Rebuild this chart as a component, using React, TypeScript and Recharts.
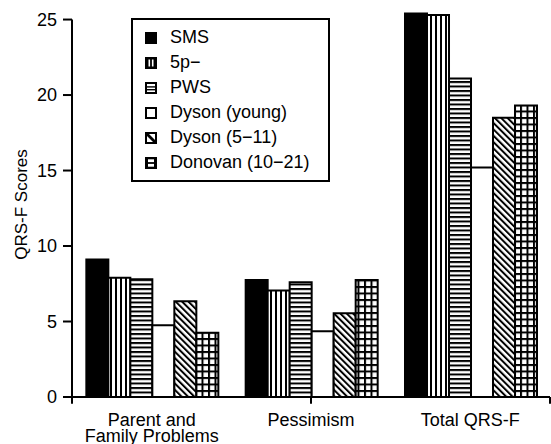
import React from 'react';
import { BarChart, Bar, XAxis, YAxis, ReferenceLine, Legend } from 'recharts';

const categories = ['Parent and Family Problems', 'Pessimism', 'Total QRS-F'];
const sms = [9.1, 7.75, 25.4];
const p5 = [7.9, 7.05, 25.3];
const pws = [7.8, 7.6, 21.1];
const dysonYoung = [4.75, 4.35, 15.2];
const dyson511 = [6.35, 5.55, 18.5];
const donovan = [4.25, 7.75, 19.3];
const yTicks = [0, 5, 10, 15, 20, 25];
const groupEdges = [0, 1, 2, 3];
const seriesNames = ['SMS', '5p\u2212', 'PWS', 'Dyson (young)', 'Dyson (5\u221211)', 'Donovan (10\u221221)'];
const seriesKeys = ['sms', 'p5', 'pws', 'dysonYoung', 'dyson511', 'donovan'];
const seriesFills = ['#000', 'url(#vstripe)', 'url(#hstripe)', '#fff', 'url(#diag)', 'url(#grid)'];

const FONT = '"Liberation Sans", Arial, Helvetica, sans-serif';

const chartData = categories.map((name, i) => ({
  name,
  sms: sms[i],
  p5: p5[i],
  pws: pws[i],
  dysonYoung: dysonYoung[i],
  dyson511: dyson511[i],
  donovan: donovan[i],
}));

const CategoryTick = ({ x, y, payload }: any) => {
  const lines =
    payload.value === 'Parent and Family Problems' ? ['Parent and', 'Family Problems'] : [payload.value];
  return (
    <text x={x} y={y} textAnchor="middle" fontSize={18} fill="#000" fontFamily={FONT}>
      {lines.map((l, i) => (
        <tspan key={i} x={x} dy={i === 0 ? 21 : 15.5}>
          {l}
        </tspan>
      ))}
    </text>
  );
};

// small legend icons, drawn by hand like the original
const Swatch = ({ idx }: { idx: number }) => {
  const s = 12;
  let inner: React.ReactNode = null;
  if (idx === 0) inner = <rect x={0} y={0} width={s} height={s} fill="#000" />;
  if (idx === 1)
    inner = (
      <>
        <rect x={0} y={0} width={s} height={s} fill="#000" />
        <rect x={3.5} y={2.5} width={1.6} height={7} fill="#fff" />
        <rect x={6.9} y={2.5} width={1.6} height={7} fill="#fff" />
      </>
    );
  if (idx === 2)
    inner = (
      <>
        <rect x={1} y={1} width={s - 2} height={s - 2} fill="#fff" stroke="#000" strokeWidth={2} />
        <rect x={1} y={4.2} width={s - 2} height={1.4} fill="#000" />
        <rect x={1} y={7} width={s - 2} height={1.4} fill="#000" />
      </>
    );
  if (idx === 3) inner = <rect x={1} y={1} width={s - 2} height={s - 2} fill="#fff" stroke="#000" strokeWidth={2} />;
  if (idx === 4)
    inner = (
      <>
        <rect x={1} y={1} width={s - 2} height={s - 2} fill="#fff" stroke="#000" strokeWidth={2} />
        <path d="M2 2 L4 2 L10 8 L10 10 L8 10 L2 4 Z" fill="#000" />
      </>
    );
  if (idx === 5)
    inner = (
      <>
        <rect x={0} y={0} width={s} height={s} fill="#000" />
        <rect x={3} y={2.3} width={6} height={2.8} fill="#fff" />
        <rect x={3} y={6.9} width={6} height={2.8} fill="#fff" />
      </>
    );
  return (
    <svg width={s} height={s} style={{ display: 'block', marginRight: 13 }}>
      {inner}
    </svg>
  );
};

const LegendBox = () => (
  <div
    style={{
      width: 199,
      height: 164,
      boxSizing: 'border-box',
      border: '2px solid #000',
      background: '#fff',
      paddingTop: 5,
      paddingLeft: 12,
      fontFamily: FONT,
      fontSize: 18,
      color: '#000',
    }}
  >
    {seriesNames.map((n, i) => (
      <div key={n} style={{ display: 'flex', alignItems: 'center', height: 25 }}>
        <Swatch idx={i} />
        <span>{n}</span>
      </div>
    ))}
  </div>
);

export default function App() {
  return (
    <div style={{ position: 'absolute', left: 0, top: 0, width: 551, height: 444, background: '#fff' }}>
      <BarChart
        width={551}
        height={444}
        data={chartData}
        margin={{ top: 12, right: 1, bottom: 8, left: 0 }}
        barCategoryGap="9%"
        barGap={0}
      >
        <defs>
          <pattern id="vstripe" patternUnits="userSpaceOnUse" width={5} height={10}>
            <rect width={5} height={10} fill="#fff" />
            <rect width={2} height={10} fill="#000" />
          </pattern>
          <pattern id="hstripe" patternUnits="userSpaceOnUse" width={10} height={4.5}>
            <rect width={10} height={4.5} fill="#fff" />
            <rect width={10} height={2} fill="#000" />
          </pattern>
          <pattern id="diag" patternUnits="userSpaceOnUse" width={4.5} height={10} patternTransform="rotate(-45)">
            <rect width={4.5} height={10} fill="#fff" />
            <rect width={2} height={10} fill="#000" />
          </pattern>
          <pattern id="grid" patternUnits="userSpaceOnUse" width={6.5} height={6.5}>
            <rect width={6.5} height={6.5} fill="#fff" />
            <rect width={2} height={6.5} fill="#000" />
            <rect width={6.5} height={2} fill="#000" />
          </pattern>
        </defs>
        <XAxis
          dataKey="name"
          tick={<CategoryTick />}
          tickLine={false}
          axisLine={{ stroke: '#000', strokeWidth: 2 }}
          height={39}
          interval={0}
        />
        {/* hidden numeric axis spanning the groups, used for the y axis line and group-boundary ticks */}
        <XAxis xAxisId="b" type="number" domain={[0, 3]} allowDataOverflow hide />
        <YAxis
          domain={[0, 25.5]}
          ticks={yTicks}
          allowDataOverflow
          width={72}
          axisLine={false}
          tickLine={{ stroke: '#000', strokeWidth: 2 }}
          tickSize={9}
          tickMargin={6}
          tick={{ fill: '#000', fontSize: 18, fontFamily: FONT }}
          label={{
            value: 'QRS-F Scores',
            angle: -90,
            position: 'insideLeft',
            offset: 0,
            dx: 21,
            style: { textAnchor: 'middle', fill: '#000', fontSize: 17, fontFamily: FONT },
          }}
        />
        <ReferenceLine
          xAxisId="b"
          segment={[
            { x: 0, y: 0 },
            { x: 0, y: 25 },
          ]}
          stroke="#000"
          strokeWidth={2}
        />
        {groupEdges.map((g) => (
          <ReferenceLine
            key={g}
            xAxisId="b"
            ifOverflow="visible"
            segment={[
              { x: g, y: 0 },
              { x: g, y: -0.45 },
            ]}
            stroke="#000"
            strokeWidth={2}
          />
        ))}
        <Legend
          layout="vertical"
          align="center"
          verticalAlign="middle"
          content={() => <LegendBox />}
          wrapperStyle={{ left: 131, top: 18, width: 199, height: 164 }}
        />
        {seriesKeys.map((k, i) => (
          <Bar
            key={k}
            dataKey={k}
            name={seriesNames[i]}
            fill={seriesFills[i]}
            stroke="#000"
            strokeWidth={2}
            isAnimationActive={false}
          />
        ))}
      </BarChart>
    </div>
  );
}
